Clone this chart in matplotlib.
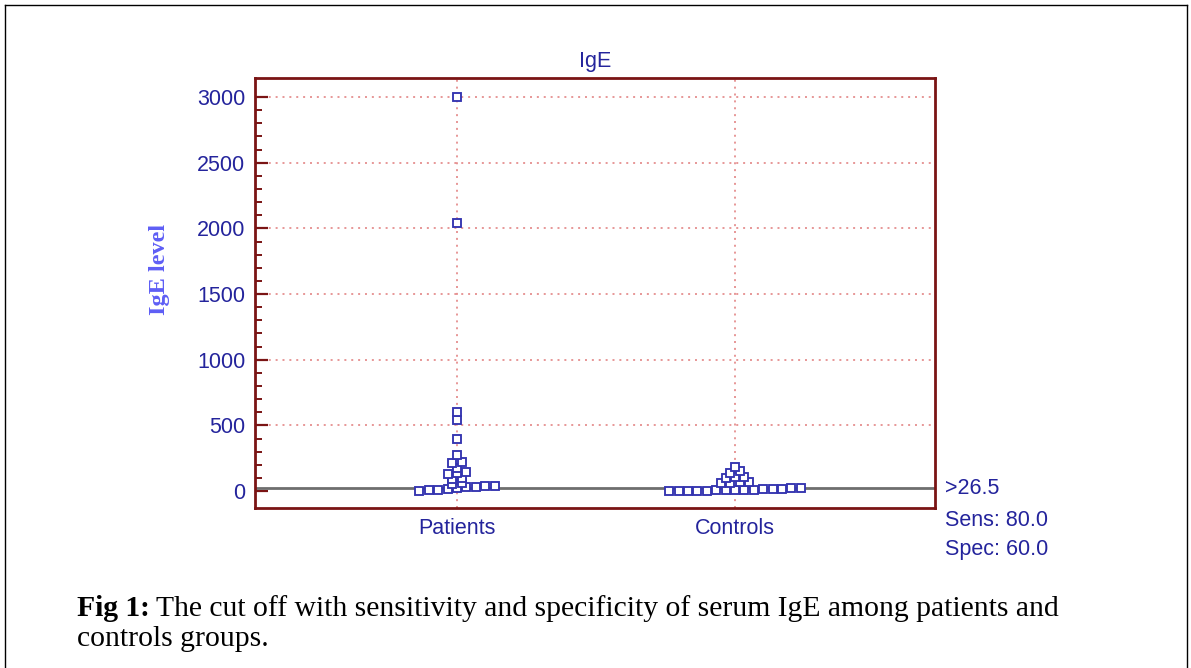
import numpy as np
import matplotlib
matplotlib.use('Agg')
import matplotlib.pyplot as plt
from matplotlib.lines import Line2D

# ---------------- data ----------------
groups = ['Patients', 'Controls']
patients = [0, 5, 10, 15, 20, 30, 30, 35, 35,
            50, 60, 95, 100, 130, 140, 145, 175, 215, 225,
            275, 400, 540, 600, 2040, 3000]
controls = [0, 0, 0, 2, 3, 5, 5, 8, 10, 10, 12, 15, 18, 20, 25,
            60, 65, 70, 70, 100, 105, 110, 140, 150, 180]
cutoff = 26.5
sens = 80.0
spec = 60.0
yticks = [0, 500, 1000, 1500, 2000, 2500, 3000]
title = 'IgE'
ylabel = 'IgE level'
caption_bold = 'Fig 1:'
caption_line1 = 'The cut off with sensitivity and specificity of serum IgE among patients and'
caption_line2 = 'controls groups.'

# ---------------- style ----------------
W, H = 1191, 668
txt_blue = '#24249c'
mk_blue = '#3434b0'
spine_red = '#7a1414'
grid_pink = '#e07a7a'
cut_gray = '#6e6e6e'
FS = 15.5

fig = plt.figure(figsize=(W / 100, H / 100), dpi=100)
ax = fig.add_axes([255 / W, 1 - 508 / H, (935 - 255) / W, (508 - 78) / H])
ax.set_xlim(0.274, 2.719)
ax.set_ylim(-129, 3145)

# spines / ticks
for s in ax.spines.values():
    s.set_color(spine_red)
    s.set_linewidth(2.0)
ax.set_yticks(yticks)
ax.set_yticks(np.arange(0, 3001, 100), minor=True)
ax.tick_params(axis='y', which='major', direction='in', length=9, width=1.6,
               color=spine_red, labelcolor=txt_blue, labelsize=FS, pad=7)
ax.tick_params(axis='y', which='minor', direction='in', length=5, width=1.4,
               color=spine_red)
ax.set_xticks([1, 2])
ax.set_xticklabels(groups)
ax.tick_params(axis='x', which='major', length=0, labelcolor=txt_blue,
               labelsize=FS, pad=7)
for lab in ax.get_xticklabels() + ax.get_yticklabels():
    lab.set_family('Liberation Sans')

# grid
dots = (0, (1.3, 3.2))
for yv in yticks[1:]:
    ax.axhline(yv, color=grid_pink, lw=1.1, ls=dots, zorder=1)
for xv in [1, 2]:
    ax.axvline(xv, color=grid_pink, lw=1.1, ls=dots, zorder=1)

# cut-off line
ax.axhline(cutoff, color=cut_gray, lw=2.0, zorder=2)

# dot-plot layout (rows of values, centred side by side)
fig.canvas.draw()
px_per_x = ax.transData.transform((1, 0))[0] - ax.transData.transform((0, 0))[0]
px_per_y = ax.transData.transform((0, 1))[1] - ax.transData.transform((0, 0))[1]
step_px = 9.4
row_px = 5.0


def layout(values, xc):
    vals = sorted(values)
    rows = {}
    for v in vals:
        b = int(np.floor(v * px_per_y / row_px))
        rows.setdefault(b, []).append(v)
    xs, ys = [], []
    for b, vs in rows.items():
        n = len(vs)
        for i, v in enumerate(vs):
            off = (i - (n - 1) / 2) * step_px / px_per_x
            xs.append(xc + off)
            ys.append(v)
    return xs, ys


for xc, data in zip([1, 2], [patients, controls]):
    xs, ys = layout(data, xc)
    ax.plot(xs, ys, ls='none', marker='s', markersize=5.5, mfc='white',
            mec=mk_blue, mew=1.35, zorder=3)

# title and labels
fig.text(595 / W, 1 - 61 / H, title, ha='center', va='center', color=txt_blue,
         fontsize=FS, family='Liberation Sans')
fig.text(160 / W, 1 - 269 / H, ylabel, ha='center', va='center', rotation=90,
         color='#5e5ef5', fontsize=17.5, family='Liberation Serif', weight='bold')

# cut-off statistics
for yy, s in zip([489, 520, 550], ['>%.1f' % cutoff, 'Sens: %.1f' % sens, 'Spec: %.1f' % spec]):
    fig.text(945 / W, 1 - yy / H, s, ha='left', va='center', color=txt_blue,
             fontsize=FS, family='Liberation Sans')

# caption
CFS = 21.3
t1 = fig.text(77 / W, 1 - 609 / H, caption_bold, ha='left', va='center',
              fontsize=CFS, family='Liberation Serif', weight='bold', color='black')
fig.canvas.draw()
bb = t1.get_window_extent()
fig.text((bb.x1 + 6) / W, 1 - 609 / H, caption_line1, ha='left', va='center',
         fontsize=CFS, family='Liberation Serif', color='black')
fig.text(77 / W, 1 - 639 / H, caption_line2, ha='left', va='center',
         fontsize=CFS, family='Liberation Serif', color='black')

# outer frame
for (x0, y0, x1, y1) in [(5, 5, 1187, 5), (5, 5, 5, 668), (1187, 5, 1187, 668)]:
    fig.add_artist(Line2D([x0 / W, x1 / W], [1 - y0 / H, 1 - y1 / H],
                          transform=fig.transFigure, color='black', lw=1.0))

fig.savefig('out.png', dpi=100)
